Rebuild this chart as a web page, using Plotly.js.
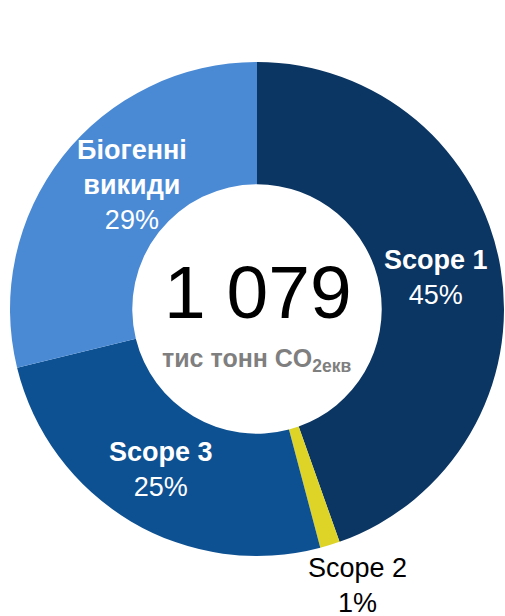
<!DOCTYPE html>
<html>
<head>
<meta charset="utf-8">
<script src="https://cdn.plot.ly/plotly-3.0.1.min.js"></script>
<style>html,body{margin:0;padding:0;background:#fff;}#chart{width:505px;height:616px;}</style>
</head>
<body>
<div id="chart"></div>
<script>
// Data (thousand tonnes CO2-eq)
const categories = ['Scope 1', 'Scope 2', 'Scope 3', 'Біогенні викиди'];
const labelText = ['Scope 1', 'Scope 2', 'Scope 3', 'Біогенні<br>викиди'];
const values = [481, 14, 273, 311];
const colors = ['#0b3562', '#ded327', '#0d5193', '#4a8ad5'];
const unitMain = 'тис тонн CO';
const unitSub = '2екв';

const W = 505, H = 616;
const total = values.reduce((a, b) => a + b, 0);
const totalText = String(total).replace(/\B(?=(\d{3})+(?!\d))/g, ' ');
const pct = values.map(v => Math.round(v / total * 100) + '%');

// pie geometry (pixels)
const cx = 257, cy = 309, R = 247;
const domain = {
  x: [(cx - R) / W, (cx + R) / W],
  y: [(H - cy - R) / H, (H - cy + R) / H]
};

// label anchor positions (pixels) and styling
const labelPos = [[436, 277], [357, 585], [161, 469], [132, 185]];
const labelColor = ['#ffffff', '#000000', '#ffffff', '#ffffff'];
const boldName = [true, false, true, true];

const annotations = categories.map((c, i) => ({
  x: labelPos[i][0] / W, y: 1 - labelPos[i][1] / H,
  xref: 'paper', yref: 'paper', xanchor: 'center', yanchor: 'middle',
  showarrow: false,
  text: (boldName[i] ? '<b>' + labelText[i] + '</b>' : labelText[i]) + '<br>' + pct[i],
  font: { family: 'Liberation Sans, Arial, sans-serif', size: 27, color: labelColor[i] }
}));

annotations.push({
  x: 258 / W, y: 1 - 292 / H, xref: 'paper', yref: 'paper',
  xanchor: 'center', yanchor: 'middle', showarrow: false,
  text: totalText,
  font: { family: 'Liberation Sans, Arial, sans-serif', size: 75, color: '#000000' }
});
annotations.push({
  x: 257 / W, y: 1 - 360 / H, xref: 'paper', yref: 'paper',
  xanchor: 'center', yanchor: 'middle', showarrow: false,
  text: '<b>' + unitMain + '<sub>' + unitSub + '</sub></b>',
  font: { family: 'Liberation Sans Narrow, Liberation Sans, Arial, sans-serif', size: 25, color: '#7f7f7f' }
});

const trace = {
  type: 'pie',
  labels: categories,
  values: values,
  hole: 0.505,
  sort: false,
  direction: 'clockwise',
  rotation: 0,
  marker: { colors: colors, line: { width: 0 } },
  textinfo: 'none',
  hoverinfo: 'none',
  domain: domain,
  showlegend: false
};

Plotly.newPlot('chart', [trace], {
  width: W, height: H,
  margin: { l: 0, r: 0, t: 0, b: 0 },
  paper_bgcolor: '#ffffff',
  plot_bgcolor: '#ffffff',
  showlegend: false,
  annotations: annotations
}, { displayModeBar: false, staticPlot: true });
</script>
</body>
</html>
